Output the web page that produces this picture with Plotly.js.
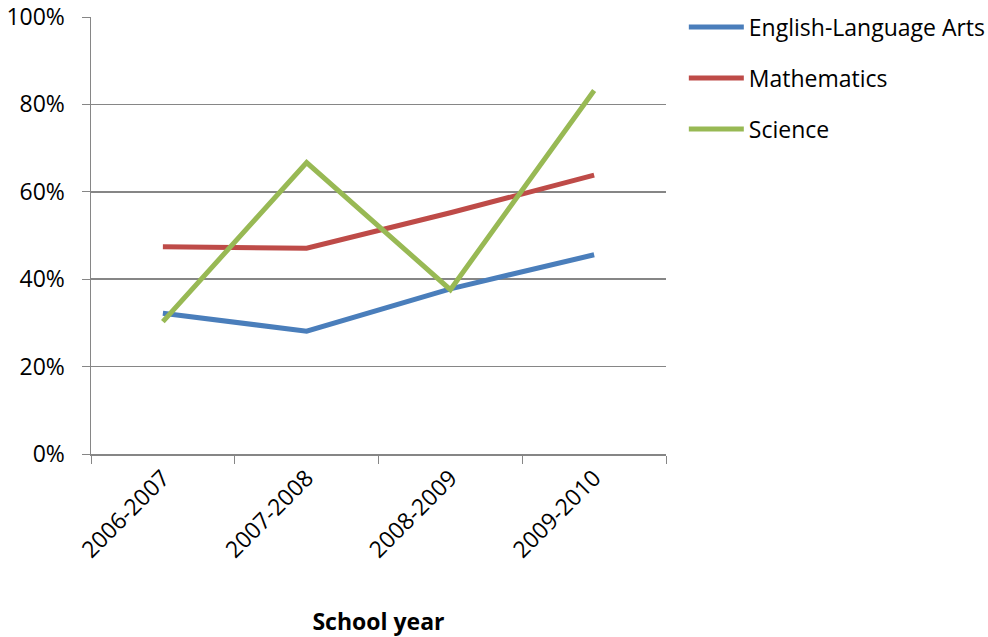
<!DOCTYPE html>
<html>
<head>
<meta charset="utf-8">
<script src="https://cdn.plot.ly/plotly-3.0.1.min.js"></script>
<style>html,body{margin:0;padding:0;background:#fff;}#chart{width:988px;height:637px;}</style>
</head>
<body>
<div id="chart"></div>
<script>
const categories = ["2006-2007", "2007-2008", "2008-2009", "2009-2010"];
const elaValues = [0.322, 0.281, 0.378, 0.456];
const mathValues = [0.474, 0.471, 0.552, 0.638];
const scienceValues = [0.303, 0.667, 0.376, 0.832];
const seriesNames = ["English-Language Arts", "Mathematics", "Science"];
const yTickVals = [0, 0.2, 0.4, 0.6, 0.8, 1.0];
const yTickText = ["0%", "20%", "40%", "60%", "80%", "100%"];

const colors = ["#4a7ebb", "#be4b48", "#98b954"];
const allValues = [elaValues, mathValues, scienceValues];
const font = "Open Sans, Noto Sans, sans-serif";

const traces = allValues.map((vals, i) => ({
  type: "scatter",
  mode: "lines",
  x: categories,
  y: vals,
  name: seriesNames[i],
  legendgroup: "g" + i,
  line: {color: colors[i], width: 5}
}));

const layout = {
  width: 988,
  height: 637,
  margin: {l: 91, r: 322, t: 17, b: 183, autoexpand: false},
  paper_bgcolor: "#fff",
  plot_bgcolor: "#fff",
  font: {family: font, size: 23, color: "#000"},
  showlegend: true,
  legend: {
    x: 1.031, xanchor: "left", y: 1.026, yanchor: "top",
    font: {family: font, size: 23, color: "#000"},
    tracegroupgap: 18,
    itemwidth: 55,
    bgcolor: "rgba(0,0,0,0)"
  },
  xaxis: {
    type: "category",
    range: [-0.5, 3.5],
    tickangle: -45,
    tickson: "boundaries",
    ticks: "outside",
    ticklen: 8,
    tickcolor: "#868686",
    showline: true,
    linecolor: "#868686",
    linewidth: 1.5,
    showgrid: false,
    zeroline: false,
    tickfont: {family: font, size: 23},
    title: {text: "<b>School year</b>", font: {family: font, size: 23}, standoff: 50}
  },
  yaxis: {
    range: [0, 1],
    tickvals: yTickVals,
    ticktext: yTickText,
    ticks: "outside",
    ticklen: 8,
    tickcolor: "#868686",
    showline: true,
    linecolor: "#868686",
    linewidth: 1.5,
    showgrid: true,
    gridcolor: "#868686",
    gridwidth: 1.5,
    zeroline: false,
    tickfont: {family: font, size: 23},
    ticklabelstandoff: 12
  }
};

Plotly.newPlot("chart", traces, layout, {displayModeBar: false, staticPlot: true});
</script>
</body>
</html>
